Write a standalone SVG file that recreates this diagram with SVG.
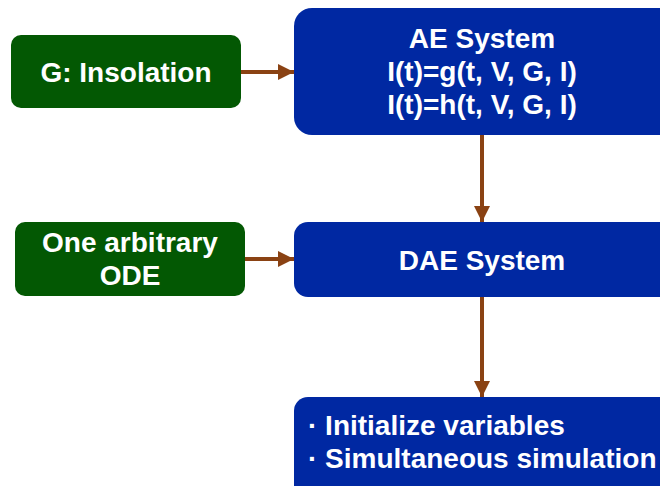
<svg xmlns="http://www.w3.org/2000/svg" width="660" height="486" viewBox="0 0 660 486">
  <style>
    .src { fill: #035803; }
    .sys { fill: #0028a2; }
    .lbl { font-family: "Liberation Sans", Arial, sans-serif; font-weight: bold; font-size: 28px; fill: #ffffff; }
    .mid { text-anchor: middle; }
    .link { stroke: #8a4213; stroke-width: 4; fill: none; marker-end: url(#head); }
  </style>
  <defs>
    <marker id="head" viewBox="0 0 10 10" refX="10" refY="5" markerWidth="4" markerHeight="4" orient="auto" markerUnits="strokeWidth">
      <path d="M0,0 L10,5 L0,10 Z" fill="#8a4213"/>
    </marker>
  </defs>
  <rect width="660" height="486" fill="#ffffff"/>

  <g id="insolation">
    <rect class="src" x="11" y="35" width="230" height="73" rx="10"/>
    <text class="lbl mid" x="126" y="82">G: Insolation</text>
  </g>

  <g id="ae-system">
    <rect class="sys" x="294" y="8" width="386" height="127" rx="18"/>
    <text class="lbl mid" x="482" y="48">AE System</text>
    <text class="lbl mid" x="482" y="81">I(t)=g(t, V, G, I)</text>
    <text class="lbl mid" x="482" y="114">I(t)=h(t, V, G, I)</text>
  </g>

  <g id="ode">
    <rect class="src" x="15" y="222" width="230" height="74" rx="10"/>
    <text class="lbl mid" x="130" y="252">One arbitrary</text>
    <text class="lbl mid" x="130" y="285">ODE</text>
  </g>

  <g id="dae-system">
    <rect class="sys" x="294" y="222" width="386" height="75" rx="14"/>
    <text class="lbl mid" x="482" y="270">DAE System</text>
  </g>

  <g id="simulation">
    <rect class="sys" x="294" y="397" width="386" height="110" rx="14"/>
    <text class="lbl" x="308" y="435">· Initialize variables</text>
    <text class="lbl" x="308" y="468">· Simultaneous simulation</text>
  </g>

  <g id="connectors">
    <line class="link" x1="241" y1="72" x2="294" y2="72"/>
    <line class="link" x1="245" y1="259" x2="294" y2="259"/>
    <line class="link" x1="482" y1="135" x2="482" y2="222"/>
    <line class="link" x1="482" y1="297" x2="482" y2="397"/>
  </g>
</svg>
